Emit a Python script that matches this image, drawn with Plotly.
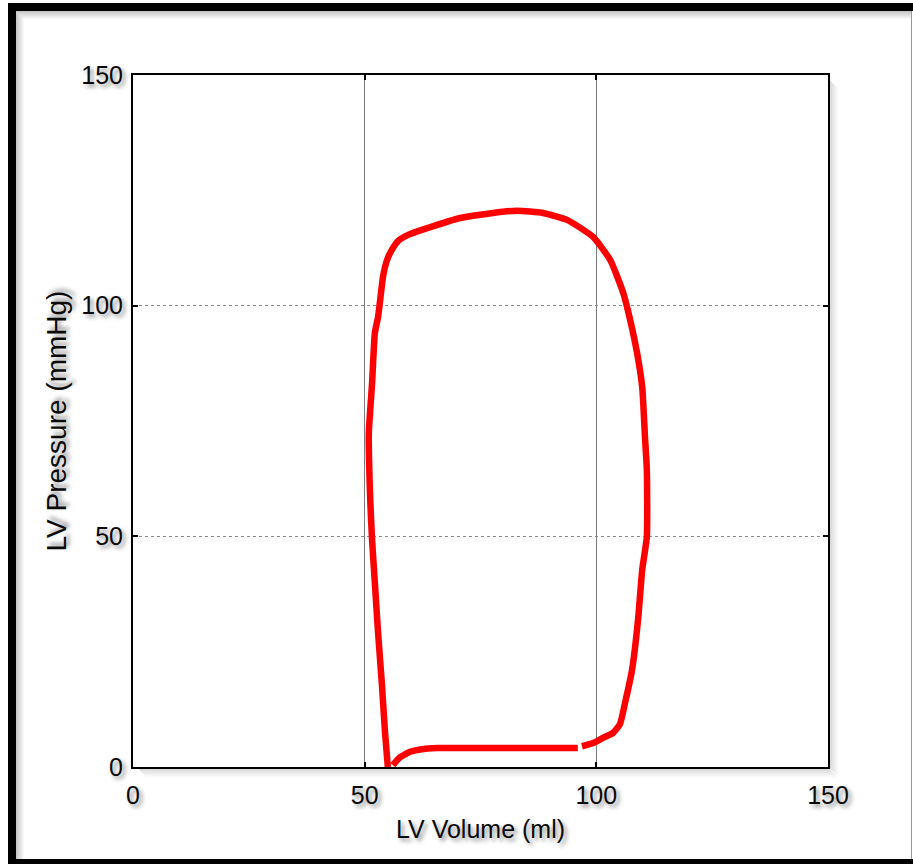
import plotly.graph_objects as go

# Left-ventricular pressure-volume loop (one cardiac cycle)
volume_fill = [56.1, 57.5, 59.8, 62.0, 65.8, 75.0, 85.0, 96.0]
pressure_fill = [0.4, 2.0, 3.3, 3.8, 4.1, 4.1, 4.1, 4.1]

volume_cycle = [96.9, 99.3, 101.4, 103.6, 105.1, 106.2, 107.7, 109.0, 109.9,
                110.9, 110.9, 110.5, 109.9, 108.8, 107.3, 105.8, 103.0, 99.3,
                93.7, 88.5, 82.9, 77.7, 70.6, 63.5, 59.5, 57.3, 55.8, 54.8, 54.0,
                52.9, 52.2, 51.6, 50.9, 51.2, 51.6, 52.2, 52.9, 53.7, 54.4, 55.0]
pressure_cycle = [4.5, 5.2, 6.3, 7.4, 9.3, 13.9, 21.0, 31.9, 42.7,
                  49.9, 64.4, 71.5, 82.4, 89.7, 96.9, 102.8, 109.9, 114.9,
                  118.6, 120.1, 120.6, 120.1, 119.0, 116.8, 115.4, 114.1, 112.0, 109.8, 106.5,
                  97.6, 94.1, 83.2, 72.4, 57.9, 49.2, 39.9, 29.0, 18.2, 7.4, 0.0]

tick_vals = [0, 50, 100, 150]
tick_text = ["0", "50", "100", "150"]

W, H = 913, 864
ML, MR, MT, MB = 133, 85, 75, 97
PW, PH = W - ML - MR, H - MT - MB


def px_x(px):
    return (px - ML) / PW


def px_y(py):
    return (H - MB - py) / PH


fig = go.Figure()
fig.add_trace(go.Scatter(
    x=volume_fill + [None] + volume_cycle,
    y=pressure_fill + [None] + pressure_cycle,
    mode="lines",
    line=dict(color="#ff0000", width=6.5, shape="spline", smoothing=0.5),
    connectgaps=False,
    hoverinfo="skip",
    showlegend=False,
))

shadow = "3px 3px 4px rgba(0,0,0,0.45)"
font_family = "Liberation Sans, Arial, sans-serif"

shapes = []
# outer picture frame
shapes.append(dict(type="rect", xref="paper", yref="paper",
                   x0=px_x(8), x1=px_x(16), y0=px_y(864), y1=px_y(3),
                   fillcolor="black", line_width=0, layer="above"))
shapes.append(dict(type="rect", xref="paper", yref="paper",
                   x0=px_x(8), x1=px_x(913), y0=px_y(11), y1=px_y(3),
                   fillcolor="black", line_width=0, layer="above"))
shapes.append(dict(type="rect", xref="paper", yref="paper",
                   x0=px_x(8), x1=px_x(913), y0=px_y(864), y1=px_y(859),
                   fillcolor="black", line_width=0, layer="above"))
shapes.append(dict(type="line", xref="paper", yref="paper",
                   x0=px_x(911.5), x1=px_x(911.5), y0=px_y(859), y1=px_y(11),
                   line=dict(color="#999999", width=1), layer="above"))

# soft inner shadow along the frame's left and top edges
for i in range(8):
    op = 0.22 * (1 - i / 8)
    shapes.append(dict(type="rect", xref="paper", yref="paper",
                       x0=px_x(16 + i), x1=px_x(17 + i), y0=px_y(859), y1=px_y(11 + i),
                       fillcolor="black", opacity=op, line_width=0, layer="below"))
    shapes.append(dict(type="rect", xref="paper", yref="paper",
                       x0=px_x(17 + i), x1=px_x(911), y0=px_y(12 + i), y1=px_y(11 + i),
                       fillcolor="black", opacity=op, line_width=0, layer="below"))

# drop shadow to the right of and below the axes box
for i in range(9):
    op = 0.16 * (1 - i / 9)
    shapes.append(dict(type="rect", xref="paper", yref="paper",
                       x0=px_x(829 + i), x1=px_x(830 + i), y0=px_y(768 + i), y1=px_y(80 + i),
                       fillcolor="black", opacity=op, line_width=0, layer="below"))
    shapes.append(dict(type="rect", xref="paper", yref="paper",
                       x0=px_x(138 + i), x1=px_x(829 + i), y0=px_y(769 + i), y1=px_y(768 + i),
                       fillcolor="black", opacity=op, line_width=0, layer="below"))

fig.update_layout(
    width=W, height=H,
    margin=dict(l=ML, r=MR, t=MT, b=MB),
    paper_bgcolor="white",
    plot_bgcolor="rgba(0,0,0,0)",
    font=dict(family=font_family, color="#0a0a0a"),
    shapes=shapes,
    xaxis=dict(
        range=[0, 150], tickvals=tick_vals, ticktext=tick_text,
        showline=True, linecolor="black", linewidth=2, mirror="ticks",
        ticks="inside", ticklen=5, tickcolor="black", tickwidth=2,
        showgrid=True, gridcolor="#7a7a7a", gridwidth=1, griddash="solid",
        zeroline=False,
        tickfont=dict(size=25, family=font_family, shadow=shadow),
        ticklabelstandoff=5,
        title=dict(text="LV Volume (ml)", standoff=12,
                   font=dict(size=25, family=font_family, shadow=shadow)),
    ),
    yaxis=dict(
        range=[0, 150], tickvals=tick_vals, ticktext=tick_text,
        showline=True, linecolor="black", linewidth=2, mirror="ticks",
        ticks="inside", ticklen=5, tickcolor="black", tickwidth=2,
        showgrid=True, gridcolor="#8a8a8a", gridwidth=1, griddash="dot",
        zeroline=False,
        tickfont=dict(size=25, family=font_family, shadow=shadow),
        ticklabelstandoff=3,
        title=dict(text="LV Pressure (mmHg)", standoff=6,
                   font=dict(size=28, family=font_family, shadow=shadow)),
    ),
)

fig.write_html("out.html")
